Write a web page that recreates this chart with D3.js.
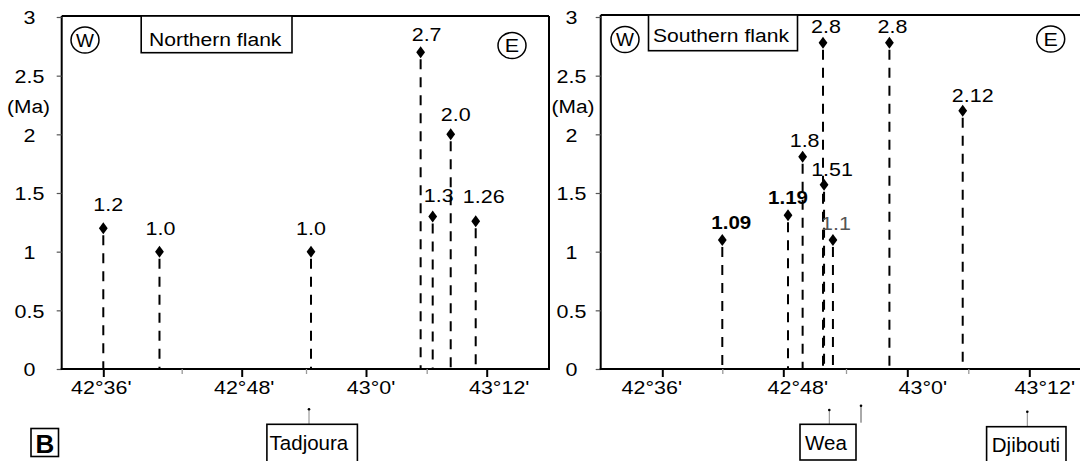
<!DOCTYPE html>
<html><head><meta charset="utf-8">
<script src="https://cdn.jsdelivr.net/npm/d3@7"></script>
<style>
body{margin:0;background:#fff}
svg{display:block}
text{font-family:"Liberation Sans",Arial,sans-serif;fill:#000}
</style>
</head><body>
<svg id="c" width="1080" height="461"></svg>
<script>
// ---------------- data ----------------
const yTickValues = [0, 0.5, 1, 1.5, 2, 2.5, 3];
const yTickLabels = ["0", "0.5", "1", "1.5", "2", "2.5", "3"];
const xMajorMinutes = [36, 48, 60, 72];          // minutes east of 42°E
const xMajorLabels = ["42°36'", "42°48'", "43°0'", "43°12'"];
const xMinorMinutes = [42, 54, 66];

const northMinutes = [36.0, 40.3, 54.5, 65.4, 66.6, 68.4, 70.9];
const northAges    = [1.2, 1.0, 1.0, 2.7, 1.3, 2.0, 1.26];
const northLabels  = ["1.2", "1.0", "1.0", "2.7", "1.3", "2.0", "1.26"];
const northStyle   = ["n", "n", "n", "n", "n", "n", "n"];

const southMinutes = [42.0, 48.45, 49.85, 51.8, 51.9, 52.75, 58.25, 65.45];
const southAges    = [1.1, 1.31, 1.81, 2.78, 1.57, 1.1, 2.78, 2.2];
const southLabels  = ["1.09", "1.19", "1.8", "2.8", "1.51", "1.1", "2.8", "2.12"];
const southStyle   = ["b", "b", "n", "n", "n", "l", "n", "n"];

const places = ["Tadjoura", "Wea", "Djibouti"];

// ---------------- layout ----------------
const FONT = 19, S = 1.13;
const svg = d3.select("#c");
const y = d3.scaleLinear().domain([0, 3]).range([369, 17]);
const xDomain = d3.sort([...xMajorMinutes, ...xMinorMinutes]);

const panels = [
  { axisX: 61.7, right: 549, top: 16, rightBorder: true,
    xRange: [103.3, 181.7, 241.7, 306, 366, 426.7, 486.7],
    yLabelCx: 29.5, xLabelOff: [-2.5, 2, 4.5, 12],
    title: "Northern flank", titleBox: [141.2, 16, 150.8, 36.7], titleText: [149, 46],
    W: [85, 40], E: [512, 45.5], ma: [28.5, 112.5],
    minutes: northMinutes, ages: northAges, labels: northLabels, style: northStyle,
    ldx: [5, 1, 0, 6, 6, 5, 8], ldy: [17, 17, 17, 11.5, 14.5, 13.5, 18.5] },
  { axisX: 600.7, right: 1081, top: 15, rightBorder: false,
    xRange: [662.3, 722.3, 783.3, 846, 907.3, 968.3, 1029.3],
    yLabelCx: 571.5, xLabelOff: [-11, 14, 15, 15],
    title: "Southern flank", titleBox: [648.5, 15, 149, 35.7], titleText: [653, 41.7],
    W: [625, 39.5], E: [1050.7, 39], ma: [573, 112.5],
    minutes: southMinutes, ages: southAges, labels: southLabels, style: southStyle,
    ldx: [9, 0, 2, 3, 8, 3, 3, 10], ldy: [11, 11, 10, 9.5, 9, 10, 9.5, 9] }
];

function stretchText(g, x, yy, str, opt = {}) {
  return g.append("text")
    .attr("transform", `translate(${x},${yy}) scale(${opt.s ?? S},1)`)
    .attr("text-anchor", opt.anchor || "middle")
    .attr("font-size", opt.size || FONT)
    .attr("font-weight", opt.weight || "normal")
    .style("fill", opt.fill || "#000")
    .text(str);
}

panels.forEach(p => {
  const g = svg.append("g");
  const x = d3.scaleLinear().domain(xDomain).range(p.xRange);

  // frame
  g.append("line").attr("x1", p.axisX).attr("x2", p.right).attr("y1", p.top).attr("y2", p.top)
    .attr("stroke", "#000").attr("stroke-width", 2);
  g.append("line").attr("x1", p.axisX).attr("x2", p.axisX).attr("y1", p.top).attr("y2", y(0) + 1)
    .attr("stroke", "#000").attr("stroke-width", 2);
  if (p.rightBorder)
    g.append("line").attr("x1", p.right).attr("x2", p.right).attr("y1", p.top).attr("y2", y(0) + 1)
      .attr("stroke", "#000").attr("stroke-width", 2);

  // y axis ticks + labels
  const ya = g.append("g").attr("transform", `translate(${p.axisX},0)`)
    .call(d3.axisLeft(y).tickValues(yTickValues).tickSize(5).tickFormat((d, i) => yTickLabels[i]));
  ya.select(".domain").remove();
  ya.selectAll(".tick line").attr("stroke", "#555").attr("stroke-width", 1.2);
  ya.selectAll(".tick text")
    .attr("x", null).attr("dy", null)
    .attr("transform", `translate(${p.yLabelCx - p.axisX},6.8) scale(${S},1)`)
    .attr("text-anchor", "middle")
    .attr("font-size", FONT).attr("font-family", null);
  stretchText(g, p.ma[0], p.ma[1], "(Ma)", { s: 1.1 });

  // x axis
  g.append("line").attr("x1", p.axisX - 1).attr("x2", p.right + 1).attr("y1", y(0)).attr("y2", y(0))
    .attr("stroke", "#000").attr("stroke-width", 2.2);
  const xMinor = g.append("g").attr("transform", `translate(0,${y(0)})`)
    .call(d3.axisBottom(x).tickValues(xMinorMinutes).tickSize(5).tickFormat(""));
  xMinor.select(".domain").remove();
  xMinor.selectAll(".tick line").attr("stroke", "#999").attr("stroke-width", 1.3);
  const xMajor = g.append("g").attr("transform", `translate(0,${y(0)})`)
    .call(d3.axisBottom(x).tickValues(xMajorMinutes).tickSize(8).tickFormat((d, i) => xMajorLabels[i]));
  xMajor.select(".domain").remove();
  xMajor.selectAll(".tick line").attr("stroke", "#000").attr("stroke-width", 2);
  xMajor.selectAll(".tick text")
    .attr("y", null).attr("dy", null)
    .attr("transform", (d, i) => `translate(${p.xLabelOff[i]},24.5) scale(${S},1)`)
    .attr("font-size", FONT).attr("font-family", null);

  // stems
  const idx = d3.range(p.minutes.length);
  g.selectAll(".stem").data(idx).join("line")
    .attr("x1", i => x(p.minutes[i])).attr("x2", i => x(p.minutes[i]))
    .attr("y1", i => y(p.ages[i]) + 7).attr("y2", y(0))
    .attr("stroke", "#000").attr("stroke-width", 2)
    .attr("stroke-dasharray", "10,8");
  // diamonds
  g.selectAll(".dia").data(idx).join("path")
    .attr("d", "M0,-6L4.4,0L0,6L-4.4,0Z")
    .attr("transform", i => `translate(${x(p.minutes[i])},${y(p.ages[i])})`)
    .attr("fill", "#000");
  // labels
  idx.forEach(i => {
    const st = p.style[i];
    stretchText(g, x(p.minutes[i]) + p.ldx[i], y(p.ages[i]) - p.ldy[i], p.labels[i], {
      weight: st === "b" ? "bold" : "normal",
      s: st === "b" ? 1.08 : S,
      fill: st === "l" ? "#555" : "#000"
    });
  });

  // title box
  const [bx, by, bw, bh] = p.titleBox;
  g.append("rect").attr("x", bx).attr("y", by).attr("width", bw).attr("height", bh)
    .attr("fill", "#fff").attr("stroke", "#000").attr("stroke-width", 1.6);
  stretchText(g, p.titleText[0], p.titleText[1], p.title, { anchor: "start", s: 1.11 });

  // W / E circles
  [["W", p.W], ["E", p.E]].forEach(([t, c]) => {
    g.append("ellipse").attr("cx", c[0]).attr("cy", c[1]).attr("rx", 14).attr("ry", 13)
      .attr("fill", "none").attr("stroke", "#000").attr("stroke-width", 1.5);
    stretchText(g, c[0], c[1] + 6.9, t, { s: t === "W" ? 1.0 : S });
  });
});

// ---------------- bottom annotations ----------------
const bottom = svg.append("g");
function placeBox(name, bx, by, bw, bh, tx, ty, cx, cy1) {
  bottom.append("line").attr("x1", cx).attr("x2", cx).attr("y1", cy1).attr("y2", by)
    .attr("stroke", "#888").attr("stroke-width", 1);
  bottom.append("circle").attr("cx", cx).attr("cy", cy1).attr("r", 1.3).attr("fill", "#000");
  bottom.append("rect").attr("x", bx).attr("y", by).attr("width", bw).attr("height", bh)
    .attr("fill", "#fff").attr("stroke", "#000").attr("stroke-width", 1.6);
  bottom.append("text").attr("x", tx).attr("y", ty).attr("font-size", 20.5).text(name);
}
placeBox(places[0], 266.9, 424.3, 90.5, 50, 269.6, 450, 309, 409.3);
placeBox(places[1], 800, 424.3, 56, 35.7, 805, 450, 829.3, 410);
placeBox(places[2], 986.6, 426.7, 79.4, 50, 991.8, 451.7, 1027.3, 411.7);
// extra pointer near Wea
bottom.append("line").attr("x1", 861).attr("x2", 861).attr("y1", 405.7).attr("y2", 422.7)
  .attr("stroke", "#555").attr("stroke-width", 1);
bottom.append("circle").attr("cx", 861).attr("cy", 405.7).attr("r", 1.3).attr("fill", "#000");

// panel letter
bottom.append("rect").attr("x", 31).attr("y", 428.5).attr("width", 27.5).attr("height", 28)
  .attr("fill", "#fff").attr("stroke", "#000").attr("stroke-width", 1.6);
bottom.append("text").attr("x", 44.8).attr("y", 452.5).attr("text-anchor", "middle")
  .attr("font-size", 26).attr("font-weight", "bold").text("B");
</script>
</body></html>
